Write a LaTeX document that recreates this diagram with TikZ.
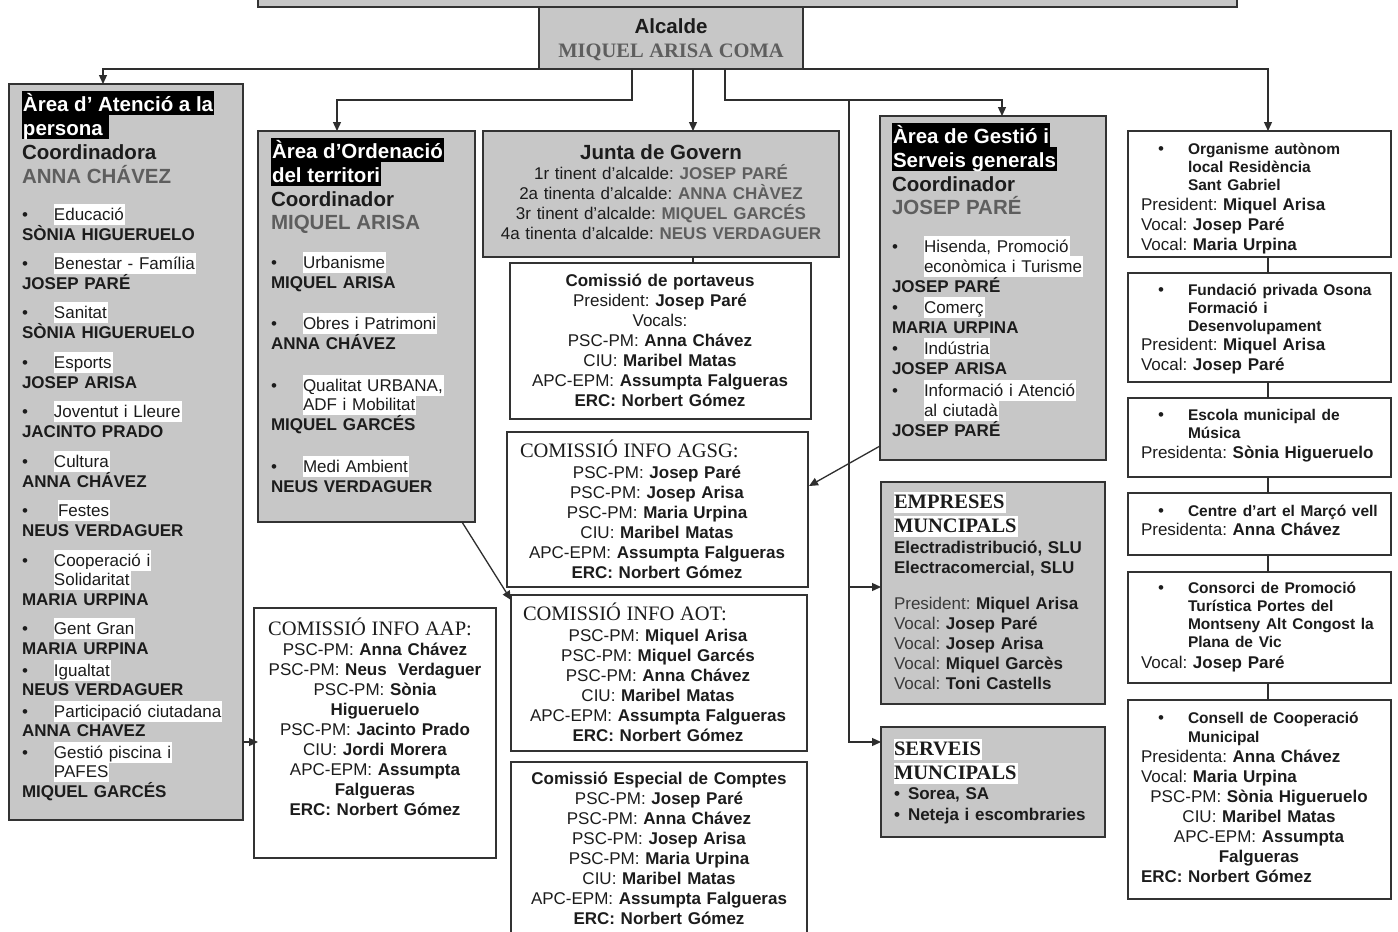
\documentclass[tikz,border=0pt]{standalone}
\usepackage{fontspec}
\setmainfont{Liberation Sans}
\newfontfamily\tms{Liberation Serif}
\usetikzlibrary{arrows.meta}
\definecolor{gfill}{HTML}{C7C7C7}
\definecolor{bdr}{HTML}{333333}
\definecolor{tdark}{HTML}{1C1C1C}
\definecolor{tgray}{HTML}{5E5E5E}
\definecolor{tmid}{HTML}{3A3A3A}
\definecolor{lcol}{HTML}{2E2E2E}
\newcommand\fH{\fontsize{20.5}{24}\selectfont}
\newcommand\fB{\fontsize{17}{20}\selectfont\lineskiplimit=-100pt\lineskip=0pt\frenchspacing}
\newcommand\fT{\fontsize{15.5}{18}\selectfont\bfseries}
\newcommand\hdrbox[1]{{\fH\bfseries\setlength\fboxsep{0pt}\colorbox{black}{\color{white}\rule[-4pt]{0pt}{24pt}\kern1pt#1\kern1pt}}}
\newcommand\hlw[1]{{\setlength\fboxsep{0pt}\colorbox{white}{\rule[-4.5pt]{0pt}{20.5pt}#1\kern1pt}}}
\newcommand\blt[1]{\makebox[32pt][l]{•}\hlw{#1}}
\newcommand\blc[1]{\hspace*{32pt}\hlw{#1}}
\newcommand\bnm[1]{{\bfseries#1}}
\newcommand\gnm[1]{{\bfseries\color{tgray}#1}}
\newcommand\rtl[1]{\hspace*{17pt}\makebox[30pt][l]{•}{\fT #1}}
\newcommand\rtc[1]{\hspace*{47pt}{\fT #1}}
\begin{document}
\lineskiplimit=-100pt
\normallineskiplimit=-100pt
\lineskip=0pt
\normallineskip=0pt
\frenchspacing
\begin{tikzpicture}[x=1pt,y=-1pt,
  gbox/.style={draw=bdr, line width=1.6pt, fill=gfill, inner sep=0, outer sep=0, anchor=north west},
  wbox/.style={draw=bdr, line width=1.6pt, fill=white, inner sep=0, outer sep=0, anchor=north west},
  txtL/.style={inner sep=0, outer sep=0, anchor=base west, align=left, text width=330pt, text=tdark, font=\fB},
  txtC/.style={inner sep=0, outer sep=0, anchor=base, align=center, text width=330pt, text=tdark, font=\fB},
  conn/.style={draw=lcol, line width=1.3pt},
  arr/.style={conn, -{Triangle[length=9pt,width=8pt]}}]
\useasboundingbox (0,0) rectangle (1398,932);
\fill[white] (0,0) rectangle (1398,932);

% ---------- boxes ----------
\node[gbox, minimum width=979, minimum height=20] (ple) at (258,-13) {};
\node[gbox, minimum width=264, minimum height=62] (alcalde) at (539,7) {};
\node[gbox, minimum width=234, minimum height=736] (atencio) at (9,84) {};
\node[gbox, minimum width=217, minimum height=391] (ordenacio) at (258,131) {};
\node[gbox, minimum width=356, minimum height=126] (junta) at (483,131) {};
\node[wbox, minimum width=301, minimum height=156] (portaveus) at (510,263) {};
\node[wbox, minimum width=301, minimum height=155] (agsg) at (507,432) {};
\node[wbox, minimum width=296, minimum height=156] (aot) at (511,595) {};
\node[wbox, minimum width=296, minimum height=185] (especial) at (511,762) {};
\node[wbox, minimum width=242, minimum height=250] (aap) at (254,608) {};
\node[gbox, minimum width=226, minimum height=344] (gestio) at (880,116) {};
\node[gbox, minimum width=224, minimum height=222] (empreses) at (881,482) {};
\node[gbox, minimum width=224, minimum height=110] (serveis) at (881,727) {};
\node[wbox, minimum width=263, minimum height=126] (organisme) at (1128,131) {};
\node[wbox, minimum width=263, minimum height=109] (fundacio) at (1128,273) {};
\node[wbox, minimum width=263, minimum height=79] (escola) at (1128,398) {};
\node[wbox, minimum width=263, minimum height=62] (centre) at (1128,493) {};
\node[wbox, minimum width=263, minimum height=111] (consorci) at (1128,572) {};
\node[wbox, minimum width=263, minimum height=199] (consell) at (1128,700) {};

% ---------- connectors ----------
\coordinate (atTop) at (103,84);
\coordinate (orgTop) at (1268,131);
\coordinate (a1) at (632,69);
\coordinate (a1b) at (632,100);
\coordinate (ordTop) at (337,131);
\coordinate (a2) at (693,69);
\coordinate (jTop) at (693,131);
\coordinate (a3) at (725,69);
\coordinate (a3b) at (725,100);
\coordinate (gTop) at (1002,116);
\coordinate (v0) at (849,100);
\coordinate (vE) at (881,587);
\coordinate (vS) at (881,742);
\coordinate (d1s) at (462,522);
\coordinate (d1e) at (511,600);
\coordinate (d2s) at (880,446);
\coordinate (d2e) at (809,486);
\coordinate (d3s) at (243,742);
\coordinate (d3e) at (258,742);

\draw[arr] (alcalde.south west) -| (atTop);
\draw[arr] (alcalde.south east) -| (orgTop);
\draw[arr] (a1) -- (a1b) -| (ordTop);
\draw[arr] (a2) -- (jTop);
\draw[arr] (a3) -- (a3b) -| (gTop);
\draw[arr] (v0) |- (vE);
\draw[arr] (v0) |- (vS);
\draw[conn] (a2 |- junta.south) -- (a2 |- portaveus.north);
\draw[arr] (d1s) -- (d1e);
\draw[arr] (d2s) -- (d2e);
\draw[arr] (d3s) -- (d3e);
\draw[conn] (orgTop |- organisme.south) -- (orgTop |- fundacio.north);
\draw[conn] (orgTop |- fundacio.south) -- (orgTop |- escola.north);
\draw[conn] (orgTop |- escola.south) -- (orgTop |- centre.north);
\draw[conn] (orgTop |- centre.south) -- (orgTop |- consorci.north);
\draw[conn] (orgTop |- consorci.south) -- (orgTop |- consell.north);

% ---------- texts ----------
\node[txtC, text width=260pt] (alcT) at (671,33) {%
{\fH\bfseries Alcalde}\\[4pt]
{\tms\fH\bfseries\color{tgray}MIQUEL ARISA COMA}};

\node[txtL] (atT) at (22,111) {%
\hdrbox{Àrea d’ Atenció a la}\\[4pt]
\hdrbox{persona\kern5pt}\\[4pt]
{\fH\bfseries Coordinadora}\\[4pt]
{\fH\bfseries\color{tgray}ANNA CHÁVEZ}\\[17pt]
\blt{Educació}\\
\bnm{SÒNIA HIGUERUELO}\\[9pt]
\blt{Benestar - Família}\\
\bnm{JOSEP PARÉ}\\[9pt]
\blt{Sanitat}\\
\bnm{SÒNIA HIGUERUELO}\\[10pt]
\blt{Esports}\\
\bnm{JOSEP ARISA}\\[9pt]
\blt{Joventut i Lleure}\\
\bnm{JACINTO PRADO}\\[10pt]
\blt{Cultura}\\
\bnm{ANNA CHÁVEZ}\\[9pt]
\makebox[36pt][l]{•}\hlw{Festes}\\
\bnm{NEUS VERDAGUER}\\[10pt]
\blt{Cooperació i}\\[-1pt]
\blc{Solidaritat}\\
\bnm{MARIA URPINA}\\[9pt]
\blt{Gent Gran}\\
\bnm{MARIA URPINA}\\[2pt]
\blt{Igualtat}\\[-1pt]
\bnm{NEUS VERDAGUER}\\[2pt]
\blt{Participació ciutadana}\\[-1pt]
\bnm{ANNA CHAVEZ}\\[2pt]
\blt{Gestió piscina i}\\[-1pt]
\blc{PAFES}\\
\bnm{MIQUEL GARCÉS}};

\node[txtL] (ordT) at (271,158) {%
\hdrbox{Àrea d’Ordenació}\\[4pt]
\hdrbox{del territori}\\[4pt]
{\fH\bfseries Coordinador}\\[3pt]
{\fH\bfseries\color{tgray}MIQUEL ARISA}\\[19pt]
\blt{Urbanisme}\\
\bnm{MIQUEL ARISA}\\[21pt]
\blt{Obres i Patrimoni}\\
\bnm{ANNA CHÁVEZ}\\[22pt]
\blt{Qualitat URBANA,}\\[-1pt]
\blc{ADF i Mobilitat}\\
\bnm{MIQUEL GARCÉS}\\[22pt]
\blt{Medi Ambient}\\
\bnm{NEUS VERDAGUER}};

\node[txtC, text width=350pt] (juntaT) at (661,159) {%
{\fH\bfseries Junta de Govern}\\
1r tinent d’alcalde: \gnm{JOSEP PARÉ}\\
2a tinenta d’alcalde: \gnm{ANNA CHÀVEZ}\\
3r tinent d’alcalde: \gnm{MIQUEL GARCÉS}\\
4a tinenta d’alcalde: \gnm{NEUS VERDAGUER}};

\node[txtC] (portT) at (660,286) {%
\bnm{Comissió de portaveus}\\
President: \bnm{Josep Paré}\\
Vocals:\\
PSC-PM: \bnm{Anna Chávez}\\
CIU: \bnm{Maribel Matas}\\
APC-EPM: \bnm{Assumpta Falgueras}\\
\bnm{ERC: Norbert Gómez}};

\node[txtL] (agsgT) at (520,457) {{\tms\fH COMISSIÓ INFO AGSG:}};
\node[txtC] (agsgL) at (657,478) {%
PSC-PM: \bnm{Josep Paré}\\
PSC-PM: \bnm{Josep Arisa}\\
PSC-PM: \bnm{Maria Urpina}\\
CIU: \bnm{Maribel Matas}\\
APC-EPM: \bnm{Assumpta Falgueras}\\
\bnm{ERC: Norbert Gómez}};

\node[txtL] (aotT) at (523,620) {{\tms\fH COMISSIÓ INFO AOT:}};
\node[txtC] (aotL) at (658,641) {%
PSC-PM: \bnm{Miquel Arisa}\\
PSC-PM: \bnm{Miquel Garcés}\\
PSC-PM: \bnm{Anna Chávez}\\
CIU: \bnm{Maribel Matas}\\
APC-EPM: \bnm{Assumpta Falgueras}\\
\bnm{ERC: Norbert Gómez}};

\node[txtC] (espT) at (659,784) {%
\bnm{Comissió Especial de Comptes}\\
PSC-PM: \bnm{Josep Paré}\\
PSC-PM: \bnm{Anna Chávez}\\
PSC-PM: \bnm{Josep Arisa}\\
PSC-PM: \bnm{Maria Urpina}\\
CIU: \bnm{Maribel Matas}\\
APC-EPM: \bnm{Assumpta Falgueras}\\
\bnm{ERC: Norbert Gómez}};

\node[txtC, text width=300pt] (aapT) at (370,635) {{\tms\fH COMISSIÓ INFO AAP:}};
\node[txtC, text width=300pt] (aapL) at (375,655) {%
PSC-PM: \bnm{Anna Chávez}\\
PSC-PM: \bnm{Neus\ \ Verdaguer}\\
PSC-PM: \bnm{Sònia}\\
\bnm{Higueruelo}\\
PSC-PM: \bnm{Jacinto Prado}\\
CIU: \bnm{Jordi Morera}\\
APC-EPM: \bnm{Assumpta}\\
\bnm{Falgueras}\\
\bnm{ERC: Norbert Gómez}};

\node[txtL] (gesT) at (892,143) {%
\hdrbox{Àrea de Gestió i}\\[4pt]
\hdrbox{Serveis generals}\\[4pt]
{\fH\bfseries Coordinador}\\[3pt]
{\fH\bfseries\color{tgray}JOSEP PARÉ}\\[18pt]
\blt{Hisenda, Promoció}\\
\blc{econòmica i Turisme}\\
\bnm{JOSEP PARÉ}\\[1pt]
\blt{Comerç}\\
\bnm{MARIA URPINA}\\[1pt]
\blt{Indústria}\\
\bnm{JOSEP ARISA}\\[2pt]
\blt{Informació i Atenció}\\
\blc{al ciutadà}\\
\bnm{JOSEP PARÉ}};

\node[txtL] (empT) at (894,508) {%
{\tms\fH\bfseries\hlw{EMPRESES}}\\[4pt]
{\tms\fH\bfseries\hlw{MUNCIPALS}}\\[1pt]
\bnm{Electradistribució, SLU}\\
\bnm{Electracomercial, SLU}\\[16pt]
{\color{tmid}President:} \bnm{Miquel Arisa}\\
{\color{tmid}Vocal:} \bnm{Josep Paré}\\
{\color{tmid}Vocal:} \bnm{Josep Arisa}\\
{\color{tmid}Vocal:} \bnm{Miquel Garcès}\\
{\color{tmid}Vocal:} \bnm{Toni Castells}};

\node[txtL] (serT) at (894,755) {%
{\tms\fH\bfseries\hlw{SERVEIS}}\\[4pt]
{\tms\fH\bfseries\hlw{MUNCIPALS}}\\
\bnm{\makebox[14pt][l]{•}Sorea, SA}\\[1pt]
\bnm{\makebox[14pt][l]{•}Neteja i escombraries}};

\node[txtL] (orgT) at (1141,154) {%
\rtl{Organisme autònom}\\[-2pt]
\rtc{local Residència}\\[-2pt]
\rtc{Sant Gabriel}\\
President: \bnm{Miquel Arisa}\\
Vocal: \bnm{Josep Paré}\\
Vocal: \bnm{Maria Urpina}};

\node[txtL] (funT) at (1141,295) {%
\rtl{Fundació privada Osona}\\[-2pt]
\rtc{Formació i}\\[-2pt]
\rtc{Desenvolupament}\\[-1pt]
President: \bnm{Miquel Arisa}\\
Vocal: \bnm{Josep Paré}};

\node[txtL] (escT) at (1141,420) {%
\rtl{Escola municipal de}\\[-2pt]
\rtc{Música}\\
Presidenta: \bnm{Sònia Higueruelo}};

\node[txtL] (cenT) at (1141,516) {%
\rtl{Centre d’art el Marçó vell}\\[-1pt]
Presidenta: \bnm{Anna Chávez}};

\node[txtL] (conT) at (1141,593) {%
\rtl{Consorci de Promoció}\\[-2pt]
\rtc{Turística Portes del}\\[-2pt]
\rtc{Montseny Alt Congost la}\\[-2pt]
\rtc{Plana de Vic}\\[1pt]
Vocal: \bnm{Josep Paré}};

\node[txtL] (cllT) at (1141,723) {%
\rtl{Consell de Cooperació}\\[-1pt]
\rtc{Municipal}\\
Presidenta: \bnm{Anna Chávez}\\
Vocal: \bnm{Maria Urpina}\\
\makebox[236pt]{PSC-PM: \bnm{Sònia Higueruelo}}\\
\makebox[236pt]{CIU: \bnm{Maribel Matas}}\\
\makebox[236pt]{APC-EPM: \bnm{Assumpta}}\\
\makebox[236pt]{\bnm{Falgueras}}\\
\bnm{ERC: Norbert Gómez}};
\end{tikzpicture}
\end{document}
